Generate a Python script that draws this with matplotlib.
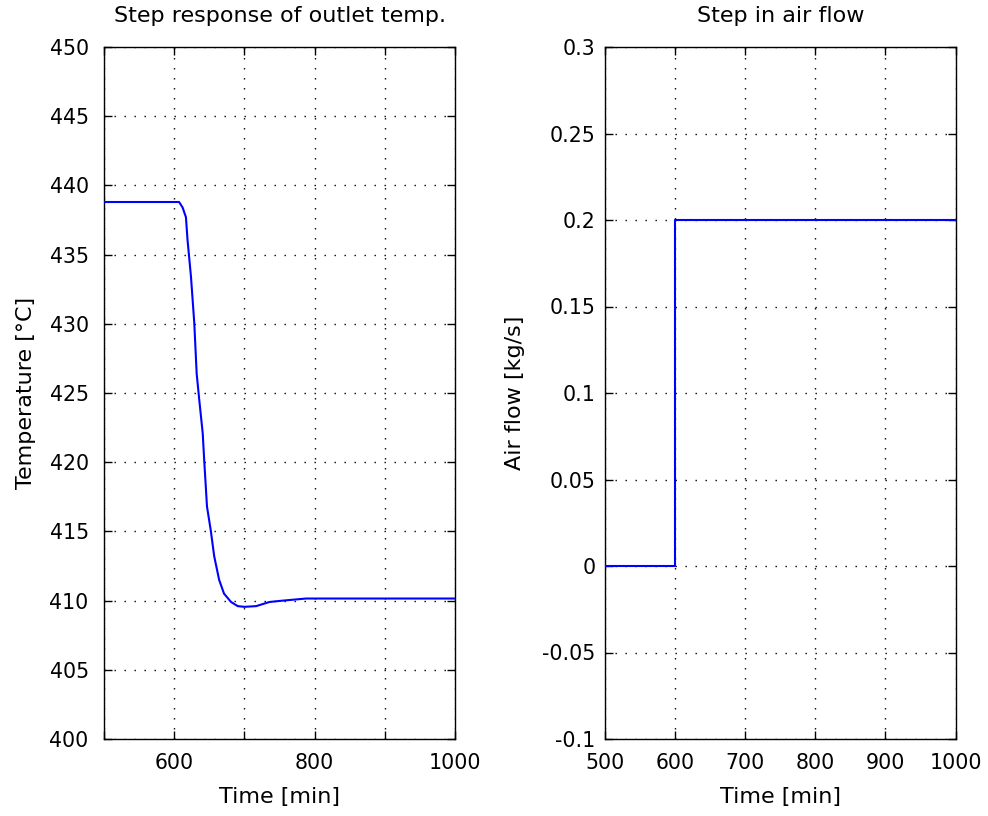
import matplotlib
matplotlib.use("Agg")
import matplotlib.pyplot as plt
import numpy as np

plt.rcParams['font.family'] = ['DejaVu Sans']
plt.rcParams['font.size'] = 14
plt.rcParams['axes.unicode_minus'] = False

# Left: temperature step response
t_temp = [500, 607, 612, 616.7, 619, 623.9, 628.6, 632, 635.7, 640.6, 642.9, 646.7,
          652, 657, 664, 671, 681, 690.5, 700, 716.7, 735.7, 755, 788, 850, 1000]
temp = [438.8, 438.8, 438.4, 437.7, 436.05, 433.4, 430.06, 426.4, 424.5, 422.1, 420.0, 416.8,
        415.1, 413.2, 411.5, 410.5, 409.9, 409.6, 409.55, 409.6, 409.9, 410.0, 410.15, 410.15, 410.15]

# Right: air flow step
t_air = [500, 600, 600, 1000]
air = [0.0, 0.0, 0.2, 0.2]

temp_xticks = [500, 600, 700, 800, 900, 1000]
temp_xticklabels = ['', '600', '', '800', '', '1000']
temp_yticks = [400, 405, 410, 415, 420, 425, 430, 435, 440, 445, 450]
air_xticks = [500, 600, 700, 800, 900, 1000]
air_yticks = [-0.1, -0.05, 0, 0.05, 0.1, 0.15, 0.2, 0.25, 0.3]
air_yticklabels = ['-0.1', '-0.05', '0', '0.05', '0.1', '0.15', '0.2', '0.25', '0.3']

fig = plt.figure(figsize=(9.88, 8.16), dpi=100)
W, H = 988, 816
ax1 = fig.add_axes([104/W, 1 - 739/H, (455 - 104)/W, (739 - 47)/H])
ax2 = fig.add_axes([605/W, 1 - 739/H, (955.5 - 605)/W, (739 - 47)/H])

grid_kw = dict(color='black', linestyle=(0, (1, 6.2)), linewidth=1.0)
TICK_FS = 14.8
TEXT_FS = 16

def style(ax, ypad):
    for s in ax.spines.values():
        s.set_linewidth(1.0)
        s.set_color('black')
    ax.tick_params(direction='in', top=True, right=True, length=6, width=1.0,
                   labelsize=TICK_FS)
    ax.tick_params(axis='y', pad=ypad)
    ax.tick_params(axis='x', pad=10)
    ax.grid(True, **grid_kw)
    ax.set_axisbelow(True)

ax1.plot(t_temp, temp, color='#0000ff', linewidth=1.5, zorder=3)
ax1.set_xlim(500, 1000)
ax1.set_ylim(400, 450)
ax1.set_xticks(temp_xticks)
ax1.set_xticklabels(temp_xticklabels)
ax1.set_yticks(temp_yticks)
style(ax1, 11)
ax1.set_title('Step response of outlet temp.', fontsize=TEXT_FS, pad=18)
ax1.set_xlabel('Time [min]', fontsize=TEXT_FS, labelpad=10)
ax1.set_ylabel('Temperature [°C]', fontsize=TEXT_FS, labelpad=10)

ax2.plot(t_air, air, color='#0000ff', linewidth=1.5, zorder=3)
ax2.set_xlim(500, 1000)
ax2.set_ylim(-0.1, 0.3)
ax2.set_xticks(air_xticks)
ax2.set_yticks(air_yticks)
ax2.set_yticklabels(air_yticklabels)
style(ax2, 7)
ax2.set_title('Step in air flow', fontsize=TEXT_FS, pad=18)
ax2.set_xlabel('Time [min]', fontsize=TEXT_FS, labelpad=10)
ax2.set_ylabel('Air flow [kg/s]', fontsize=TEXT_FS, labelpad=12)

fig.savefig('out.png', dpi=100)
